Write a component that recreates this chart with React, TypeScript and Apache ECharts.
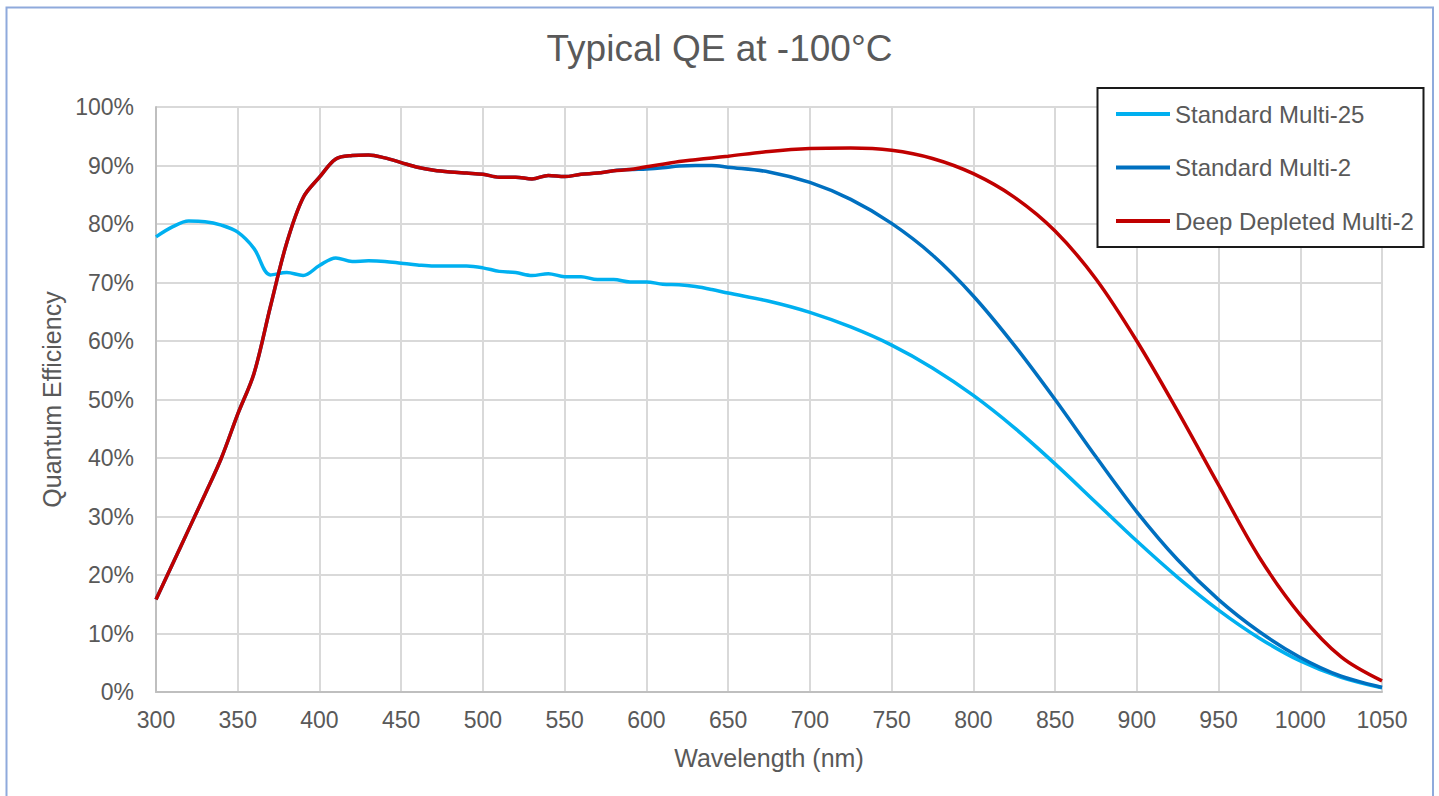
import React, { useEffect, useRef } from "react";
import * as echarts from "echarts";

const wavelengths = [
  300, 310, 320, 330, 340, 350, 360, 370, 380, 390, 400, 410, 420, 430, 440, 450, 460, 470, 480, 490,
  500, 510, 520, 530, 540, 550, 560, 570, 580, 590, 600, 610, 620, 630, 640, 650, 675, 700, 725, 750,
  775, 800, 825, 850, 875, 900, 925, 950, 975, 1000, 1025, 1050,
];

const standardMulti25 = [
  77.8, 79.5, 80.5, 80.4, 79.8, 78.6, 75.8, 71.3, 71.7, 71.2, 72.9, 74.2, 73.6, 73.7, 73.6, 73.3, 73.0, 72.8, 72.8, 72.8,
  72.5, 71.9, 71.7, 71.2, 71.5, 71.0, 71.0, 70.5, 70.5, 70.1, 70.1, 69.7, 69.6, 69.3, 68.8, 68.2, 66.8, 64.9, 62.4, 59.3,
  55.4, 50.7, 45.2, 39.0, 32.4, 25.8, 19.6, 14.0, 9.2, 5.3, 2.5, 0.7,
];

const standardMulti2 = [
  15.8, 21.8, 27.8, 33.8, 40.0, 47.5, 54.5, 65.9, 76.8, 84.5, 88.0, 91.1, 91.7, 91.8, 91.3, 90.5, 89.7, 89.2, 88.9, 88.7,
  88.5, 88.0, 88.0, 87.7, 88.3, 88.1, 88.5, 88.7, 89.1, 89.3, 89.4, 89.6, 89.9, 90.0, 90.0, 89.7, 88.9, 87.1, 84.2, 80.1,
  74.7, 67.7, 59.3, 50.0, 40.2, 30.8, 22.6, 15.8, 10.3, 5.9, 2.7, 0.8,
];

const deepDepletedMulti2 = [
  15.8, 21.8, 27.8, 33.8, 40.0, 47.5, 54.5, 65.9, 76.8, 84.5, 88.0, 91.1, 91.7, 91.8, 91.3, 90.5, 89.7, 89.2, 88.9, 88.7,
  88.5, 88.0, 88.0, 87.7, 88.3, 88.1, 88.5, 88.7, 89.1, 89.3, 89.8, 90.2, 90.7, 91.0, 91.3, 91.6, 92.4, 92.9, 93.0, 92.6,
  91.2, 88.6, 84.6, 78.8, 70.6, 60.0, 48.0, 35.4, 23.0, 13.2, 6.0, 1.9,
];

const seriesNames = ["Standard Multi-25", "Standard Multi-2", "Deep Depleted Multi-2"];
const seriesColors = ["#00B0F0", "#0070C0", "#C00000"];

const FONT = "Liberation Sans, Arial, sans-serif";
const TEXT = "#595959";

export default function App() {
  const ref = useRef<HTMLDivElement>(null);

  useEffect(() => {
    if (!ref.current) return;
    const chart = echarts.init(ref.current, undefined, { renderer: "svg" });
    const all = [standardMulti25, standardMulti2, deepDepletedMulti2];
    const option = {
      animation: false,
      backgroundColor: "#ffffff",
      title: {
        text: "Typical QE at -100°C",
        left: "center",
        top: 30,
        padding: 0,
        textStyle: { fontFamily: FONT, fontSize: 37, fontWeight: "normal", color: TEXT },
      },
      graphic: [
        {
          type: "rect",
          z: 1,
          silent: true,
          shape: { x: 6.5, y: 7.5, width: 1426.5, height: 800 },
          style: { fill: "none", stroke: "#8FAADC", lineWidth: 2 },
        },
        {
          type: "rect",
          z: 5,
          silent: true,
          shape: { x: 1097.5, y: 88, width: 326, height: 159 },
          style: { fill: "#ffffff", stroke: "#1a1a1a", lineWidth: 2 },
        },
      ],
      legend: {
        z: 10,
        orient: "vertical",
        left: 1116,
        top: 102,
        padding: 0,
        icon: "rect",
        itemWidth: 54,
        itemHeight: 4,
        itemGap: 29.5,
        data: seriesNames,
        textStyle: { fontFamily: FONT, fontSize: 24, color: TEXT, lineHeight: 24 },
      },
      grid: { left: 156, right: 57, top: 107, bottom: 104, containLabel: false },
      xAxis: {
        type: "value",
        min: 300,
        max: 1050,
        interval: 50,
        name: "Wavelength (nm)",
        nameLocation: "middle",
        nameGap: 53,
        nameTextStyle: { fontFamily: FONT, fontSize: 25, color: TEXT },
        axisLine: { show: true, lineStyle: { color: "#BFBFBF", width: 2 } },
        axisTick: { show: false },
        axisLabel: {
          fontFamily: FONT,
          fontSize: 23,
          color: TEXT,
          margin: 16,
          formatter: (v: number) => String(v),
        },
        splitLine: { show: true, lineStyle: { color: "#D9D9D9", width: 2 } },
      },
      yAxis: {
        type: "value",
        min: 0,
        max: 100,
        interval: 10,
        name: "Quantum Efficiency",
        nameLocation: "middle",
        nameGap: 92,
        nameTextStyle: { fontFamily: FONT, fontSize: 25, color: TEXT },
        axisLine: { show: true, lineStyle: { color: "#BFBFBF", width: 2 } },
        axisTick: { show: false },
        axisLabel: { fontFamily: FONT, fontSize: 23, color: TEXT, margin: 22, formatter: "{value}%" },
        splitLine: { show: true, lineStyle: { color: "#D9D9D9", width: 2 } },
      },
      series: seriesNames.map((name, i) => ({
        name,
        type: "line",
        smooth: 0.34,
        symbol: "none",
        showSymbol: false,
        color: seriesColors[i],
        itemStyle: { color: seriesColors[i] },
        lineStyle: { color: seriesColors[i], width: 3.5 },
        data: wavelengths.map((w, j) => [w, all[i][j]]),
      })),
    };
    chart.setOption(option as any);
    return () => chart.dispose();
  }, []);

  return (
    <div
      ref={ref}
      style={{ position: "absolute", left: 0, top: 0, width: 1439, height: 796 }}
    />
  );
}
